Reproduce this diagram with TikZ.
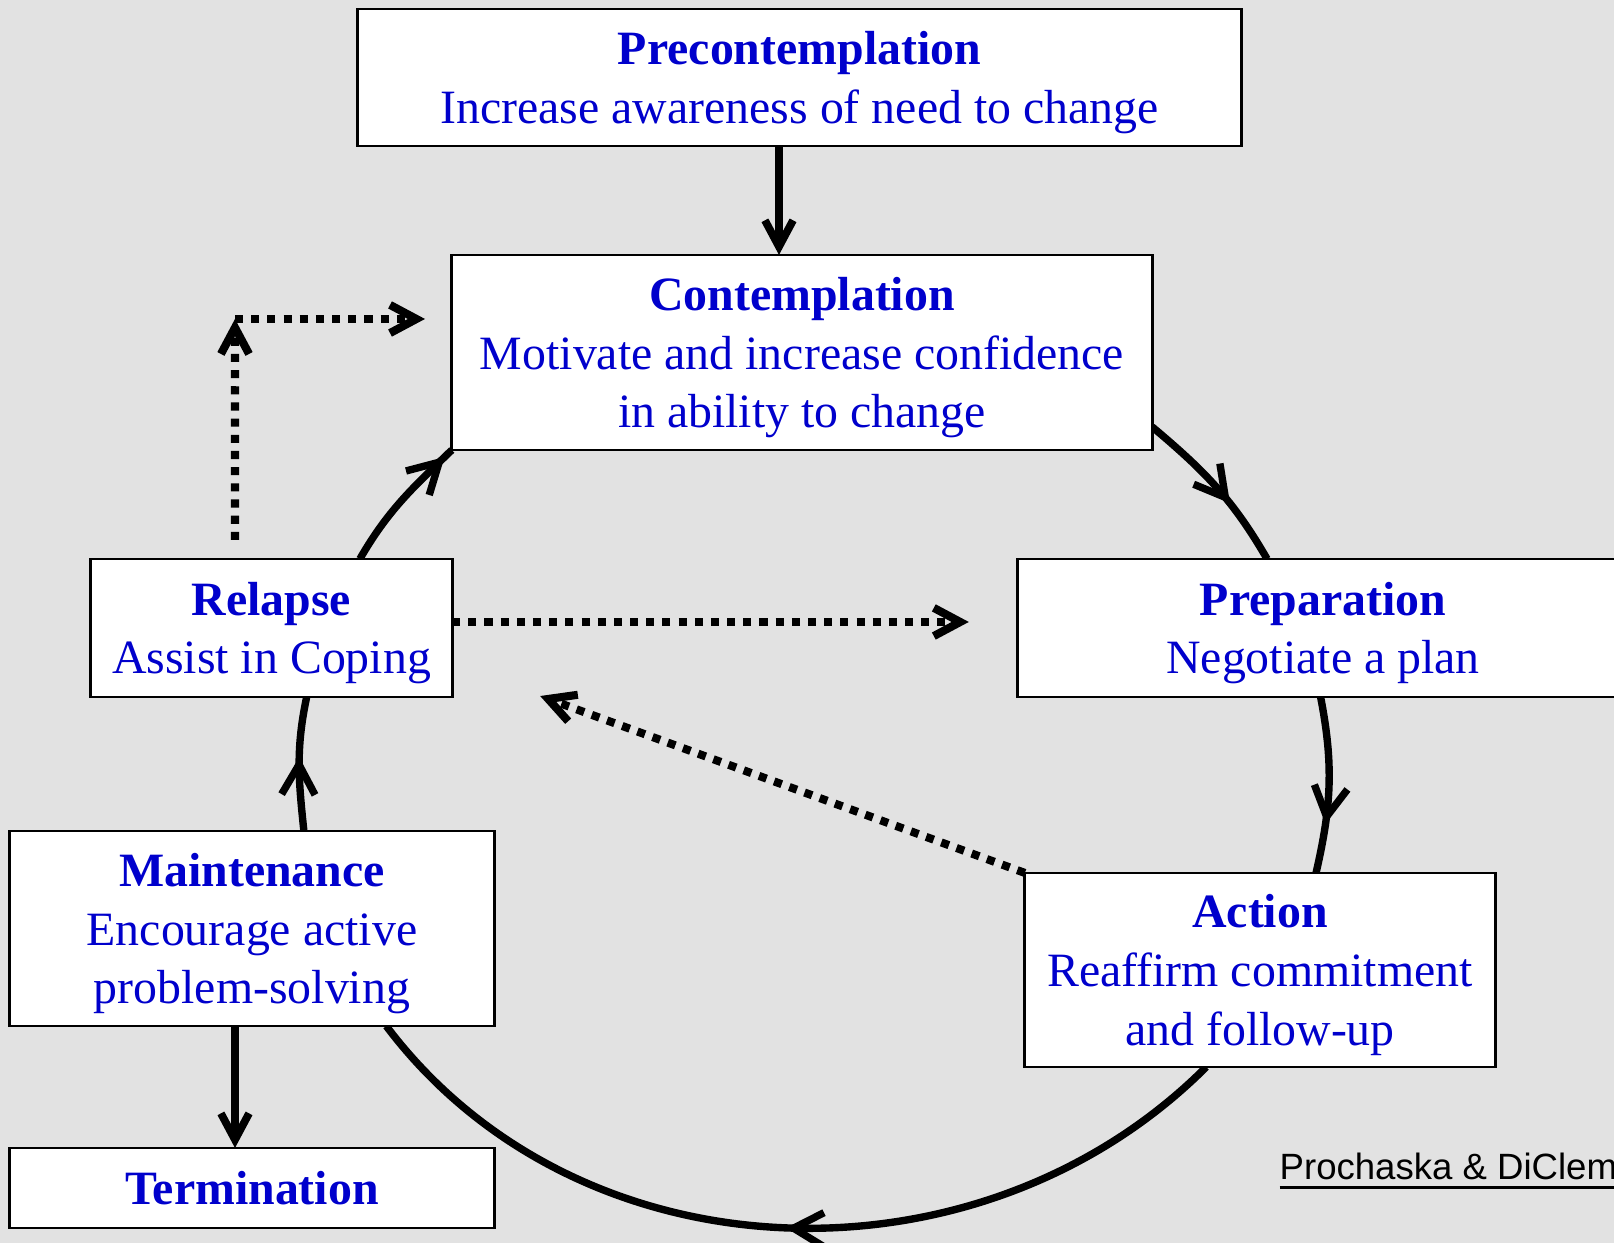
\documentclass[tikz,border=0pt]{standalone}
\usepackage{fontspec}
\setmainfont{Liberation Serif}
\newfontfamily\creditfont{Liberation Sans}
\usetikzlibrary{arrows.meta,decorations.markings,backgrounds,calc}
\definecolor{bgcol}{RGB}{226,226,226}
\definecolor{txtblue}{RGB}{0,0,204}
\newsavebox\credbox
\newcommand\thickul[1]{\sbox\credbox{#1}\rlap{\usebox\credbox}\rule[-2.6pt]{\wd\credbox}{0.85pt}}
\begin{document}
\begin{tikzpicture}[x=0.01cm,y=0.01cm,
  box/.style={draw=black, line width=0.8pt, fill=white, inner sep=0pt, outer sep=0pt,
    align=center, text=txtblue, text depth=0pt, font=\fontsize{13.6pt}{16.7pt}\selectfont},
  >={Straight Barb[length=7.5pt,width=8pt]},
  bigtip/.tip={Straight Barb[length=8.5pt,width=9.5pt]},
  ring/.style={line width=2.1pt},
  flow/.style={line width=2.2pt,->},
  dots/.style={line width=2.3pt, dash pattern=on 2.3pt off 2.3pt, ->},
  midarrow/.style={postaction={decorate,decoration={markings,mark=at position #1 with {\arrow{bigtip}}}}}
]
\path[use as bounding box] (0,0) rectangle (1614,1243);
\clip (0,0) rectangle (1614,1243);

% boxes
\node[box, minimum width=8.83cm, minimum height=1.37cm] (pre) at (799.5,1165.5)
  {\textbf{Precontemplation}\\Increase awareness of need to change};
\node[box, minimum width=7.00cm, minimum height=1.95cm] (con) at (802,890.5)
  {\textbf{Contemplation}\\Motivate and increase confidence\\in ability to change};
\node[box, minimum width=3.61cm, minimum height=1.38cm] (rel) at (271.5,615)
  {\textbf{Relapse}\\Assist in Coping};
\node[box, minimum width=6.10cm, minimum height=1.38cm] (prep) at (1323,615)
  {\textbf{Preparation}\\Negotiate a plan};
\node[box, minimum width=4.84cm, minimum height=1.95cm] (maint) at (252,314.5)
  {\textbf{Maintenance}\\Encourage active\\problem-solving};
\node[box, minimum width=4.70cm, minimum height=1.94cm] (act) at (1260,273)
  {\textbf{Action}\\Reaffirm commitment\\and follow-up};
\node[box, minimum width=4.84cm, minimum height=0.80cm] (term) at (252,55)
  {\textbf{Termination}};

\node[anchor=base west, inner sep=0pt, font=\creditfont\fontsize{10.4pt}{12pt}\selectfont]
  (credit) at (1279,63) {\thickul{Prochaska \& DiClem}};

% background and cycle arcs behind the boxes
\begin{pgfonlayer}{background}
  \fill[bgcol] (0,0) rectangle (1614,1243);
  \draw[ring, midarrow=0.62] (con.-12.5) to[out=-40,in=120] (prep.129);
  \draw[ring, midarrow=0.72] (prep.-92.5) to[out=-79,in=77] (act.60.4);
  \draw[ring, midarrow=0.5] (act.-119) to[out=-135,in=-53] (maint.-36.7);
  \draw[ring, midarrow=0.55] (maint.62.9) to[out=96,in=-102] (rel.-63.4);
  \draw[ring, midarrow=0.93] (rel.38.6) to[out=60,in=-136] (con.south west);
\end{pgfonlayer}

% straight arrows
\draw[flow] ([xshift=-0.205cm]pre.south) -- ([xshift=-0.205cm]pre.south |- con.north);
\draw[flow] ([xshift=-0.17cm]maint.south) -- ([xshift=-0.17cm]maint.south |- term.north);

% dotted arrows
\coordinate (elbow) at (235,924);
\coordinate (elbowtip) at (425,924);
\draw[dots] ([xshift=-0.365cm,yshift=0.19cm]rel.north) -- (elbow);
\draw[dots] (elbow) -- (elbowtip);
\draw[dots] ([yshift=0.06cm]rel.east) -- ([xshift=-0.49cm,yshift=0.06cm]prep.west);
\draw[dots] (act.north west) -- ([xshift=0.88cm,yshift=0.01cm]rel.south east);
\end{tikzpicture}
\end{document}
